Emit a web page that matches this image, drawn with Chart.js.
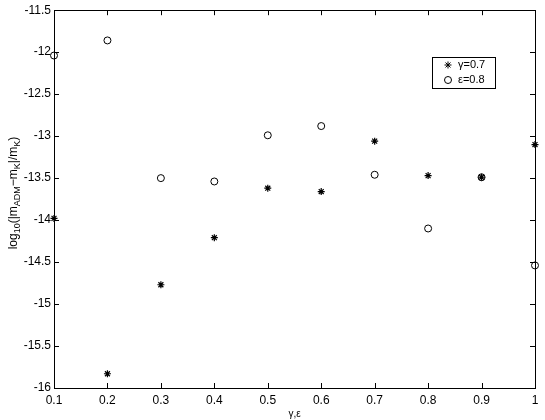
<!DOCTYPE html>
<html>
<head>
<meta charset="utf-8">
<script src="https://cdn.jsdelivr.net/npm/chart.js@4/dist/chart.umd.min.js"></script>
<style>
  html, body { margin: 0; padding: 0; background: #fff; }
  #wrap { width: 545px; height: 420px; }
</style>
</head>
<body>
<div id="wrap"><canvas id="chart"></canvas></div>
<script>
// datos
const xVals = [0.1, 0.2, 0.3, 0.4, 0.5, 0.6, 0.7, 0.8, 0.9, 1.0]
const gammaVals = [-13.98, -15.83, -14.77, -14.21, -13.62, -13.66, -13.06, -13.47, -13.49, -13.10]
const epsVals = [-12.04, -11.86, -13.50, -13.54, -12.99, -12.88, -13.46, -14.10, -13.49, -14.54]
const xTicks = [0.1, 0.2, 0.3, 0.4, 0.5, 0.6, 0.7, 0.8, 0.9, 1]
const xTickLabels = ["0.1", "0.2", "0.3", "0.4", "0.5", "0.6", "0.7", "0.8", "0.9", "1"]
const yTicks = [-16, -15.5, -15, -14.5, -14, -13.5, -13, -12.5, -12, -11.5]
const yTickLabels = ["-16", "-15.5", "-15", "-14.5", "-14", "-13.5", "-13", "-12.5", "-12", "-11.5"]
const serieNames = ["\u03b3=0.7", "\u03b5=0.8"]
const xTitle = "\u03b3,\u03b5"

const FONT = "'Liberation Sans', Arial, sans-serif"

// marco, ticks hacia dentro, leyenda y titulo del eje y
const matlabPlugin = {
    id: "matlab",
    afterDraw(chart) {
        const ctx = chart.ctx
        const a = chart.chartArea
        const xs = chart.scales.x
        const ys = chart.scales.y
        ctx.save()
        ctx.strokeStyle = "#000"
        ctx.lineWidth = 1
        ctx.strokeRect(Math.round(a.left) + 0.5, Math.round(a.top) + 0.5,
            Math.round(a.right - a.left), Math.round(a.bottom - a.top))
        ctx.beginPath()
        xTicks.forEach(v => {
            const px = Math.round(xs.getPixelForValue(v)) + 0.5
            ctx.moveTo(px, a.bottom); ctx.lineTo(px, a.bottom - 5)
            ctx.moveTo(px, a.top); ctx.lineTo(px, a.top + 5)
        })
        yTicks.forEach(v => {
            const py = Math.round(ys.getPixelForValue(v)) + 0.5
            ctx.moveTo(a.left, py); ctx.lineTo(a.left + 5, py)
            ctx.moveTo(a.right, py); ctx.lineTo(a.right - 5, py)
        })
        ctx.stroke()

        // leyenda
        const lx = 432, ly = 57, lw = 63, lh = 31
        ctx.fillStyle = "#fff"
        ctx.fillRect(lx, ly, lw, lh)
        ctx.strokeRect(lx + 0.5, ly + 0.5, lw, lh)
        ctx.font = "11px " + FONT
        ctx.textBaseline = "middle"
        ctx.textAlign = "left"
        chart.data.datasets.forEach((ds, i) => {
            const cy = ly + 8 + i * 15
            ctx.fillStyle = "#fff"
            ctx.strokeStyle = "#000"
            Chart.helpers.drawPoint(ctx, {
                pointStyle: ds.pointStyle, radius: ds.pointRadius, borderWidth: 1
            }, lx + 16, cy)
            ctx.fillStyle = "#000"
            ctx.fillText(ds.label, lx + 26, cy)
        })

        // titulo eje y con subindices
        const partes = [["log", 0], ["10", 1], ["(|m", 0], ["ADM", 1], ["\u2212m", 0], ["K", 1], ["|/m", 0], ["K", 1], [")", 0]]
        const fN = "12px " + FONT, fS = "9px " + FONT
        let total = 0
        partes.forEach(([t, s]) => { ctx.font = s ? fS : fN; total += ctx.measureText(t).width })
        ctx.translate(13, 193)
        ctx.rotate(-Math.PI / 2)
        ctx.fillStyle = "#000"
        ctx.textBaseline = "alphabetic"
        let x = -total / 2
        partes.forEach(([t, s]) => {
            ctx.font = s ? fS : fN
            ctx.fillText(t, x, s ? 7 : 4)
            x += ctx.measureText(t).width
        })
        ctx.restore()
    }
}

const grafico = document.getElementById("chart").getContext("2d")
new Chart(grafico, {
    type: "scatter",
    data: {
        datasets: [{
            label: serieNames[0],
            data: xVals.map((x, i) => ({ x: x, y: gammaVals[i] })),
            pointStyle: "star",
            pointRadius: 3.5,
            borderColor: "#000",
            backgroundColor: "#000",
            borderWidth: 1.2,
            clip: false,
        }, {
            label: serieNames[1],
            data: xVals.map((x, i) => ({ x: x, y: epsVals[i] })),
            pointStyle: "circle",
            pointRadius: 3.5,
            borderColor: "#000",
            backgroundColor: "rgba(0,0,0,0)",
            borderWidth: 1,
            clip: false,
        }],
    },
    options: {
        responsive: true,
        maintainAspectRatio: false,
        animation: false,
        devicePixelRatio: 1,
        layout: { padding: { top: 10, right: 10, left: 0, bottom: 0 } },
        plugins: {
            legend: { display: false },
            tooltip: { enabled: false },
        },
        scales: {
            x: {
                type: "linear",
                min: 0.1,
                max: 1,
                afterBuildTicks: (s) => { s.ticks = xTicks.map(v => ({ value: v })) },
                afterFit: (s) => { s.height = 32 },
                grid: { display: false, drawTicks: false },
                border: { display: false },
                ticks: {
                    color: "#000",
                    font: { family: FONT, size: 12 },
                    padding: 5,
                    maxRotation: 0,
                    autoSkip: false,
                    callback: (v, i) => xTickLabels[i],
                },
                title: {
                    display: true,
                    text: xTitle,
                    color: "#000",
                    font: { family: FONT, size: 10 },
                    padding: { top: 0, bottom: 0 },
                },
            },
            y: {
                min: -16,
                max: -11.5,
                afterBuildTicks: (s) => { s.ticks = yTicks.map(v => ({ value: v })) },
                afterFit: (s) => { s.width = 54 },
                grid: { display: false, drawTicks: false },
                border: { display: false },
                ticks: {
                    color: "#000",
                    font: { family: FONT, size: 12 },
                    padding: 3,
                    autoSkip: false,
                    callback: (v, i) => yTickLabels[i],
                },
            },
        },
    },
    plugins: [matlabPlugin],
})
</script>
</body>
</html>
